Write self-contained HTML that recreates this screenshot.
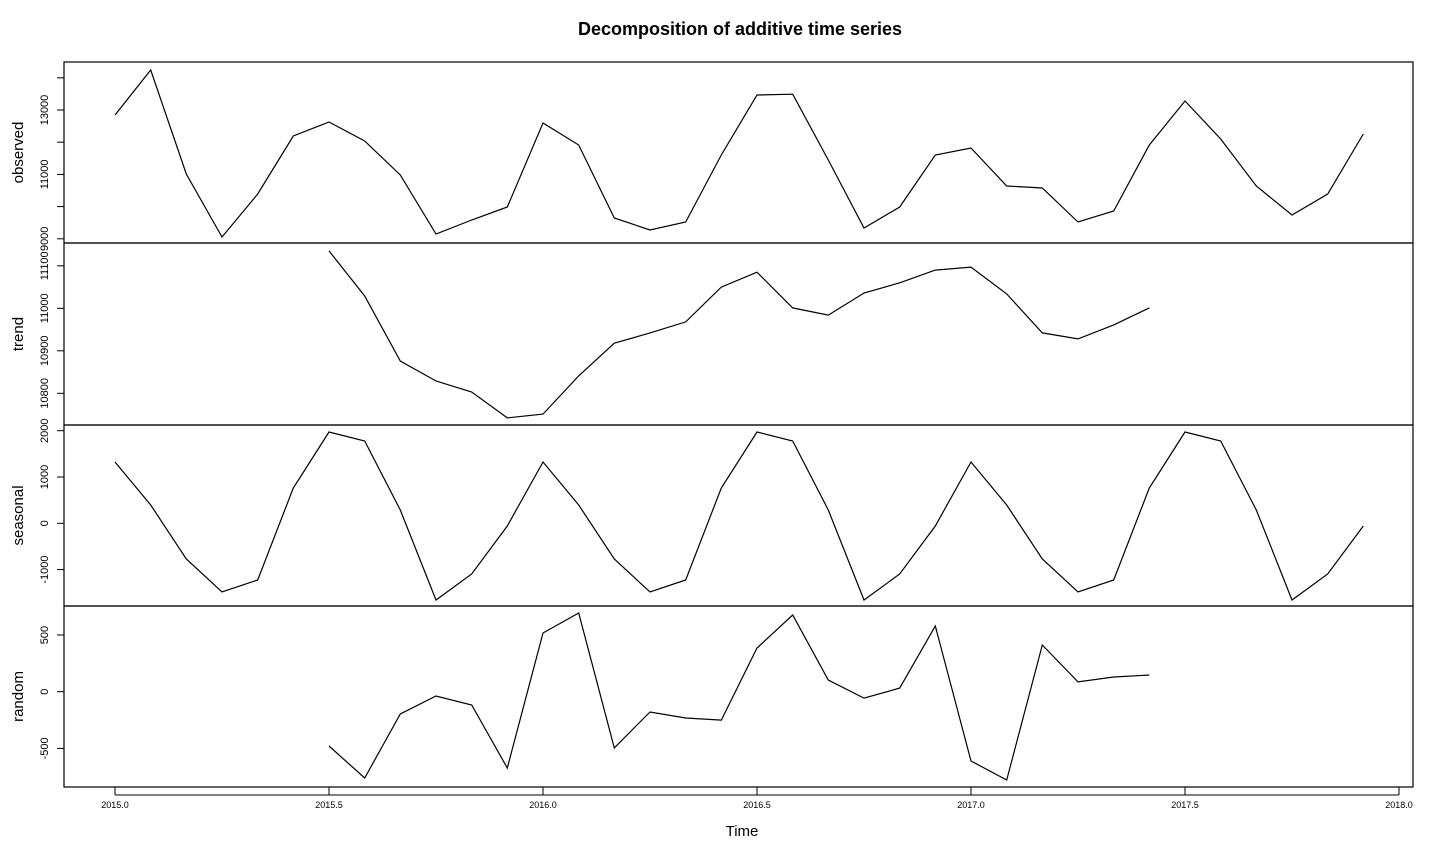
<!DOCTYPE html>
<html><head><meta charset="utf-8"><style>
body{margin:0;background:#fff;}
svg{display:block;font-family:"Liberation Sans",Arial,sans-serif;}
</style></head><body>
<svg id="c" width="1440" height="864">
<text x="740" y="35" text-anchor="middle" font-size="18" font-weight="bold">Decomposition of additive time series</text>
<text x="742" y="836" text-anchor="middle" font-size="15">Time</text>
</svg>
<script>
const observed=[12845,14242,11012,9056,10391,12193,12627,12037,10981,9149,9584,9988,12596,11913,9646,9273,9522,11602,13466,13490,11447,9335,9988,11602,11820,10640,10578,9522,9863,11913,13280,12099,10640,9739,10391,12255];
const trend=[11135,11029,10876,10829,10803,10742,10751,10841,10918,10942,10968,11050,11085,11001,10984,11036,11060,11090,11097,11034,10942,10928,10961,11001];
const seasonalMonthly=[1324,395,-771,-1484,-1225,762,1972,1778,287,-1657,-1095,-58];
const random=[-479,-761,-197,-38,-117,-673,518,694,-496,-179,-232,-250,385,676,103,-56,32,579,-611,-779,412,86,130,147];
const xTicks=["2015.0","2015.5","2016.0","2016.5","2017.0","2017.5","2018.0"];
const startYear=2015, trendOffset=6;
const ns="http://www.w3.org/2000/svg";
const svg=document.getElementById('c');
function xs(t){return 115+(t-2015)*428;}
function mk(tag,attrs,parent){const e=document.createElementNS(ns,tag);for(const k in attrs)e.setAttribute(k,attrs[k]);(parent||svg).appendChild(e);return e;}
const panels=[
 {name:'observed',top:62,bot:243,ref:13000,refY:110,scale:32.2/1000,ticks:[9000,10000,11000,12000,13000,14000],labels:[9000,11000,13000],data:observed,off:0},
 {name:'trend',top:243,bot:425,ref:11000,refY:308.3,scale:42.5/100,ticks:[10800,10900,11000,11100],labels:[10800,10900,11000,11100],data:trend,off:trendOffset},
 {name:'seasonal',top:425,bot:606,ref:0,refY:523.3,scale:46.3/1000,ticks:[-1000,0,1000,2000],labels:[-1000,0,1000,2000],data:Array.from({length:36},(_,i)=>seasonalMonthly[i%12]),off:0},
 {name:'random',top:606,bot:787,ref:0,refY:691.7,scale:56.7/500,ticks:[-500,0,500],labels:[-500,0,500],data:random,off:trendOffset}
];
panels.forEach(p=>{
 const g=mk('g',{});
 
 
 const ys=v=>p.refY-(v-p.ref)*p.scale;
 const r=mk('rect',{x:64,y:p.top,width:1349,height:p.bot-p.top,fill:'none',stroke:'#000','stroke-width':1.2},g);
 
 
 p.ticks.forEach(t=>{
  const y=ys(t);
  mk('line',{x1:57,x2:64,y1:y,y2:y,stroke:'#000'},g);
  if(p.labels.includes(t)){
   const tx=mk('text',{x:48,y:y,'font-size':11,'text-anchor':'middle',transform:`rotate(-90 48 ${y})`},g);
   tx.textContent=t;
   
   
  }
 });
 const mid=(p.top+p.bot)/2;
 const lab=mk('text',{x:23,y:mid,'font-size':15,'text-anchor':'middle',transform:`rotate(-90 23 ${mid})`},g);
 lab.textContent=p.name;
 
 
 const pts=p.data.map((v,i)=>xs(startYear+(i+p.off)/12).toFixed(1)+','+ys(v).toFixed(1)).join(' ');
 const pl=mk('polyline',{points:pts,fill:'none',stroke:'#000','stroke-width':1.2},g);
 
 
});
xTicks.forEach(t=>{
 const x=xs(parseFloat(t));
 mk('line',{x1:x,x2:x,y1:787,y2:795,stroke:'#000'});
 const tx=mk('text',{x:x,y:808,'font-size':9,'text-anchor':'middle'});
 tx.textContent=t;
 
 
});
mk('line',{x1:xs(2015),x2:xs(2018),y1:795,y2:795,stroke:'#000'});
</script>
</body></html>
